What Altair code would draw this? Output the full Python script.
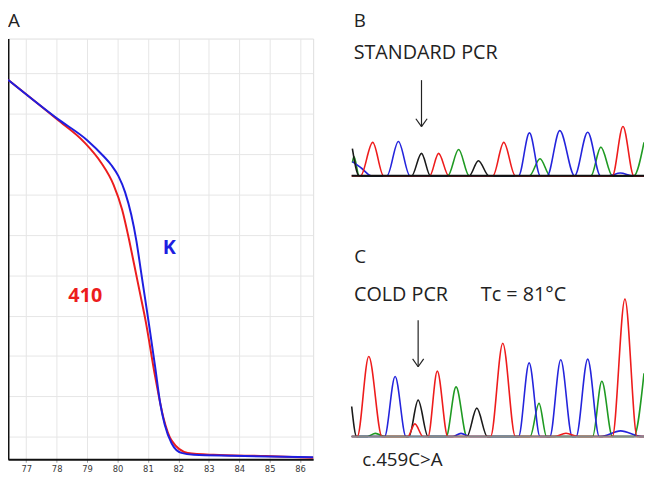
import altair as alt
import pandas as pd

# ---------------- Panel A: melting curves ----------------
TEMP_TICKS = [77, 78, 79, 80, 81, 82, 83, 84, 85, 86]
FLUO_GRID = [1, 2, 3, 4, 5, 6, 7, 8, 9, 10]

K_TEMP = [76.40, 78.02, 79.01, 79.55, 79.80, 80.03, 80.25, 80.45, 80.62, 80.76, 80.90, 81.05,
          81.24, 81.40, 81.55, 81.78, 82.10, 82.51, 83.78, 86.43]
K_FLUO = [9.835, 8.874, 8.335, 7.937, 7.72, 7.45, 7.05, 6.50, 5.85, 5.15, 4.45, 3.70,
          2.711, 1.844, 1.305, 0.836, 0.602, 0.555, 0.531, 0.496]

S410_TEMP = [76.40, 78.02, 78.91, 79.45, 79.87, 80.15, 80.38, 80.54, 80.73, 80.92,
             81.24, 81.51, 81.78, 82.31, 83.15, 84.87, 86.43]
S410_FLUO = [9.835, 8.851, 8.288, 7.796, 7.234, 6.625, 5.875, 5.289, 4.586, 3.883,
             2.476, 1.469, 0.906, 0.602, 0.555, 0.524, 0.484]

LABEL_TEXT = ["K", "410"]
LABEL_TEMP = [81.70, 78.94]
LABEL_FLUO = [5.66, 4.49]

# ---------------- Panels B / C: sequencing traces ----------------
# u = scan position, h = signal height
B_T_U = [0, 9, 21.3, 32.3, 79, 88, 98.3, 143, 154, 165.7, 264, 274.7, 285.7, 296]
B_T_H = [0, 0, 35.3, 0, 0, 23.7, 0, 0, 35.3, 0, 0, 52, 0, 0]
B_C_U = [0.7, 10, 20, 35.7, 47.3, 59, 169, 180, 191, 198, 210.7, 225.7, 239, 252, 260, 272, 285, 296]
B_C_H = [15, 8, 0, 0, 36.3, 0, 0, 45.3, 0, 0, 47.7, 0, 46, 0, 0, 3, 0, 0]
B_G_U = [0.7, 7.5, 60.7, 70.7, 79.7, 119, 128.3, 139, 296]
B_G_H = [28.7, 0, 0, 23.7, 0, 0, 16, 0, 0]
B_A_U = [0.7, 2.3, 7.5, 97.3, 108.3, 119, 180, 190.7, 201, 242.3, 252.3, 264, 285.7, 296]
B_A_H = [14, 20.3, 0, 0, 27.7, 0, 0, 18, 0, 0, 30.3, 0, 0, 35.3]

C_T_U = [0, 5.7, 17.3, 30.7, 56.7, 64, 72.3, 77.3, 86.7, 97.3, 140.7, 153, 165.7,
         205, 217, 230, 264, 276.7, 289, 296]
C_T_H = [0, 0, 84.4, 0, 0, 13.4, 0, 0, 69, 0, 0, 98.4, 0, 0, 3.5, 0, 0, 145, 0, 0]
C_C_U = [0, 33.3, 44, 55, 102, 110.7, 120, 169, 179.7, 190.7, 200.7, 211.7, 223.3,
         227.3, 239, 250.7, 252, 272.3, 294, 296]
C_C_H = [0, 0, 63.4, 0, 0, 3.4, 0, 0, 77.7, 0, 0, 81, 0, 0, 81.7, 0, 0, 6, 0, 0]
C_G_U = [0, 5, 58, 67.3, 77.3, 116.7, 126.7, 137.3, 296]
C_G_H = [31.7, 0, 0, 38.4, 0, 0, 30, 0, 0]
C_A_U = [0, 16, 24, 34, 95.7, 105.7, 116.7, 180.7, 189.7, 197.3, 244, 253.3, 264, 285.7, 296]
C_A_H = [0, 0, 3.4, 0, 0, 52.4, 0, 0, 35, 0, 0, 58.4, 0, 0, 66.7]

BASES = ["A", "C", "G", "T"]
BASE_COLORS = ["#1f9a22", "#2424dc", "#1a1a1a", "#ee1c1c"]
BLUE = "#1e1ee0"
RED = "#ec1d1d"
FONT = "Open Sans"

# ---------------- layout (pixels) ----------------
W, H = 309, 426
PAD = {"left": 0, "top": 28, "right": 335, "bottom": 15}

# ---------------- Panel A ----------------
xA_scale = alt.Scale(domain=[76.4, 86.43], nice=False, zero=False)
yA_scale = alt.Scale(domain=[0.445, 10.855], nice=False, zero=False)
xA_axis = alt.Axis(values=TEMP_TICKS, title=None, grid=True, gridColor="#e6e6e6",
                   domainColor="#111111", domainWidth=2, tickColor="#999999",
                   tickSize=3, labelFont="DejaVu Sans", labelFontSize=8.5,
                   labelColor="#3a3a3a", labelPadding=2, labelFlush=False,
                   labelOverlap=False)
yA_axis = alt.Axis(values=FLUO_GRID, title=None, labels=False, ticks=False, grid=True,
                   gridColor="#e6e6e6", domainColor="#111111", domainWidth=2)
xA = alt.X("t:Q", scale=xA_scale, axis=xA_axis)
yA = alt.Y("f:Q", scale=yA_scale, axis=yA_axis)

df410 = pd.DataFrame({"t": S410_TEMP, "f": S410_FLUO})
dfK = pd.DataFrame({"t": K_TEMP, "f": K_FLUO})
dfLab = pd.DataFrame({"t": LABEL_TEMP, "f": LABEL_FLUO, "s": LABEL_TEXT})

c410 = alt.Chart(df410).mark_line(color=RED, strokeWidth=2, interpolate="monotone").encode(x=xA, y=yA)
cK = alt.Chart(dfK).mark_line(color=BLUE, strokeWidth=2, interpolate="monotone").encode(x=xA, y=yA)
labs = alt.Chart(dfLab).mark_text(font=FONT, fontSize=20, fontWeight="bold", baseline="middle").encode(
    x=xA, y=yA, text="s:N",
    color=alt.Color("s:N", scale=alt.Scale(domain=["K", "410"], range=[BLUE, RED]), legend=None))
panelA = alt.layer(c410, cK, labs)


def traces(lists):
    rows = []
    for base, (us, hs) in zip(BASES, lists):
        for u, h in zip(us, hs):
            rows.append({"u": u, "h": h, "base": base})
    return pd.DataFrame(rows)


def trace_panel(df, y_top_units, y_base_px, base_color, base_width):
    xs = alt.Scale(domain=[0, 296], range=[348, 644], nice=False, zero=False)
    ys = alt.Scale(domain=[0, y_top_units], range=[y_base_px, y_base_px - 0.96 * y_top_units],
                   nice=False, zero=False)
    lines = alt.Chart(df).mark_line(strokeWidth=1.6, interpolate="monotone").encode(
        x=alt.X("u:Q", scale=xs, axis=None),
        y=alt.Y("h:Q", scale=ys, axis=None),
        color=alt.Color("base:N", scale=alt.Scale(domain=BASES, range=BASE_COLORS), legend=None),
        detail="base:N")
    base = alt.Chart(pd.DataFrame({"u": [0], "u2": [296], "h": [0]})).mark_rule(
        color=base_color, strokeWidth=base_width).encode(
        x=alt.X("u:Q", scale=xs, axis=None), x2="u2:Q", y=alt.Y("h:Q", scale=ys, axis=None))
    return alt.layer(lines, base)


panelB = trace_panel(traces([(B_A_U, B_A_H), (B_C_U, B_C_H), (B_G_U, B_G_H), (B_T_U, B_T_H)]),
                     100, 139, "#111111", 2)
panelC = trace_panel(traces([(C_A_U, C_A_H), (C_C_U, C_C_H), (C_G_U, C_G_H), (C_T_U, C_T_H)]),
                     150, 403, "#888888", 1.5)

one = pd.DataFrame({"k": [0]})


def label(text, x, y, size, color="#222222"):
    return alt.Chart(one).mark_text(text=text, font=FONT, fontSize=size, align="left",
                                    baseline="alphabetic", color=color).encode(
        x=alt.value(x), y=alt.value(y))


def seg(x, y, x2, y2):
    return alt.Chart(one).mark_rule(color="#222222", strokeWidth=1.2).encode(
        x=alt.value(x), y=alt.value(y), x2=alt.value(x2), y2=alt.value(y2))


texts = alt.layer(
    label("A", 0, -11.5, 19),
    label("B", 350, -11.5, 19),
    label("STANDARD PCR", 350, 21, 20),
    label("C", 350.5, 227.4, 19),
    label("COLD PCR", 350.3, 266, 20),
    label("Tc = 81°C", 478.7, 266, 20),
    label("c.459C>A", 358.7, 433.1, 19),
    seg(418.7, 42.1, 418.7, 89.1), seg(413.0, 81.2, 418.7, 89.1), seg(424.4, 81.2, 418.7, 89.1),
    seg(415.3, 285.2, 415.3, 332.3), seg(409.7, 324.3, 415.3, 332.3), seg(420.9, 324.3, 415.3, 332.3),
)

chart = alt.layer(panelA, panelB, panelC, texts).resolve_scale(
    x="independent", y="independent", color="independent"
).properties(
    width=W, height=H, padding=PAD, autosize=alt.AutoSizeParams(type="none")
).configure_view(stroke="#777777", strokeWidth=2).configure_axisX(
    labelOverlap=False
).configure(background="white")

chart.save("out.html", embed_options={"renderer": "svg", "actions": False})
